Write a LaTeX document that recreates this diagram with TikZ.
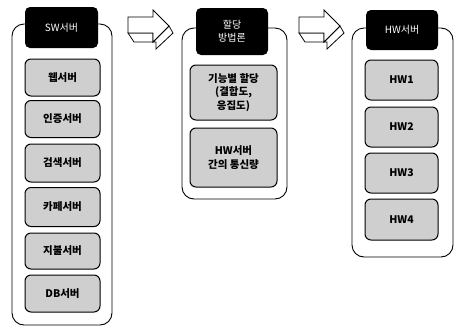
\documentclass[tikz,border=0pt]{standalone}
\usepackage{fontspec}
\setmainfont{Noto Sans CJK KR}
\begin{document}
\begin{tikzpicture}[x=1pt,y=-1pt,
  cont/.style={draw=black,line width=0.9pt,rounded corners=12pt,fill=white},
  hdr/.style={fill=black,rounded corners=5pt,text=white,font=\fontsize{10}{13}\selectfont,align=center,inner sep=0pt},
  item/.style={draw=black,line width=1pt,fill=gray!38,rounded corners=6pt,font=\bfseries\fontsize{10.5}{13.5}\selectfont,align=center,inner sep=0pt},
  arrowface/.style={draw=black,line width=0.8pt,fill=white,line join=miter}
]
\useasboundingbox (0,0) rectangle (455,330);

% containers
\draw[cont] (12,24) rectangle (112,325);
\draw[cont] (182,28) rectangle (287,199);
\draw[cont] (352,28) rectangle (453,257);

% headers
\node[hdr,minimum width=73pt,minimum height=41pt] (sw) at (61.5,27.5) {SW서버};
\node[hdr,minimum width=72pt,minimum height=47pt] (al) at (232,31.5) {할당\\방법론};
\node[hdr,minimum width=72pt,minimum height=40pt] (hw) at (402,30) {HW서버};

% left items
\node[item,minimum width=75pt,minimum height=37pt] (s1) at (62.5,77.5) {웹서버};
\node[item,minimum width=75pt,minimum height=37pt] (s2) at (62.5,119) {인증서버};
\node[item,minimum width=75pt,minimum height=38pt] (s3) at (62.5,163) {검색서버};
\node[item,minimum width=75pt,minimum height=39pt] (s4) at (62.5,207) {카페서버};
\node[item,minimum width=75pt,minimum height=36pt] (s5) at (62.5,251) {지불서버};
\node[item,minimum width=75pt,minimum height=37pt] (s6) at (62.5,293.5) {DB서버};

% middle items
\node[item,minimum width=87pt,minimum height=55pt] (m1) at (233.5,92.5) {기능별 할당\\(결합도,\\응집도)};
\node[item,minimum width=87pt,minimum height=59pt] (m2) at (233.5,157.5) {HW서버\\간의 통신량};

% right items
\node[item,minimum width=73pt,minimum height=40pt] (h1) at (401.5,80) {HW1};
\node[item,minimum width=73pt,minimum height=40pt] (h2) at (401.5,127) {HW2};
\node[item,minimum width=73pt,minimum height=40pt] (h3) at (401.5,173) {HW3};
\node[item,minimum width=73pt,minimum height=41pt] (h4) at (401.5,219.5) {HW4};

% 3D block arrows
\foreach \dx/\nm in {0/a1, 171/a2}{
  \begin{scope}[shift={(\dx,0)}]
    \draw[arrowface] (128,33) -- (134,42) -- (156,42) -- (156,49) -- (173,33) -- (169,26) -- (153,42) -- (153,33) -- cycle;
    \draw[arrowface] (128,17) -- (153,17) -- (153,10) -- (169,26) -- (153,42) -- (153,33) -- (128,33) -- cycle;
  \end{scope}
}
\end{tikzpicture}
\end{document}
